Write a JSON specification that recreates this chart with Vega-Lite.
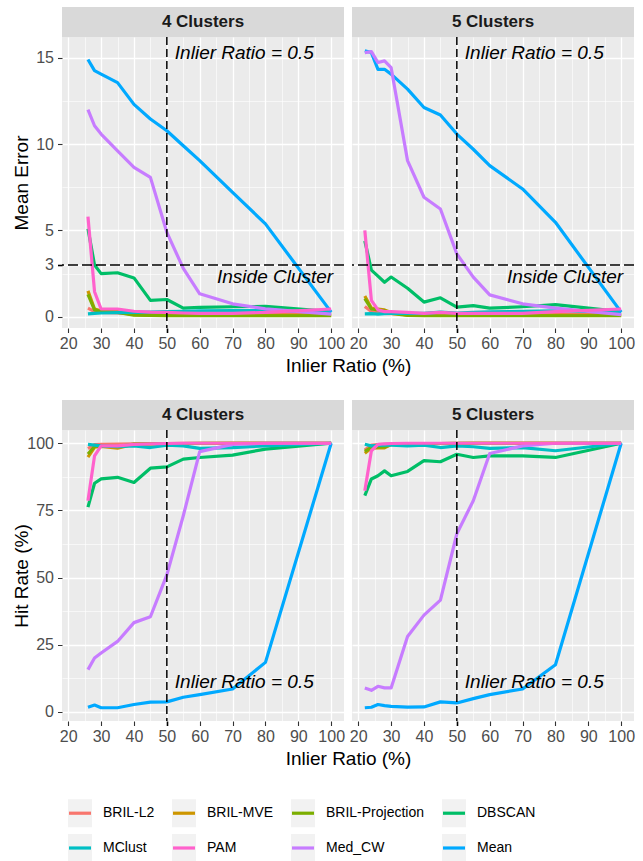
{
  "$schema": "https://vega.github.io/schema/vega-lite/v6.json",
  "background": "white",
  "padding": {"left": 12, "top": 7, "right": 7, "bottom": 0},
  "config": {
    "font": "Liberation Sans",
    "view": {"fill": "#EBEBEB", "stroke": null},
    "axis": {
      "domain": false,
      "gridColor": "#FFFFFF",
      "labelColor": "#4D4D4D",
      "labelFontSize": 16,
      "labelFont": "Liberation Sans",
      "tickColor": "#333333",
      "tickSize": 4.5,
      "titleFontSize": 19,
      "titleFontWeight": "normal",
      "titleColor": "#000000",
      "titleFont": "Liberation Sans",
      "labelOverlap": false,
      "labelFlush": false
    },
    "legend": {"symbolBaseFillColor": "#F2F2F2"},
    "line": {"strokeWidth": 3.2, "strokeJoin": "round", "strokeCap": "butt"}
  },
  "datasets": {
    "runs": [
      {"k":4,"m":"BRIL-L2","r":26,"e":0.5,"h":98},{"k":4,"m":"BRIL-L2","r":28,"e":0.3,"h":99.5},{"k":4,"m":"BRIL-L2","r":30,"e":0.25,"h":99.6},{"k":4,"m":"BRIL-L2","r":35,"e":0.22,"h":99.7},{"k":4,"m":"BRIL-L2","r":40,"e":0.15,"h":99.8},{"k":4,"m":"BRIL-L2","r":45,"e":0.12,"h":99.9},{"k":4,"m":"BRIL-L2","r":50,"e":0.12,"h":99.9},{"k":4,"m":"BRIL-L2","r":55,"e":0.1,"h":100},{"k":4,"m":"BRIL-L2","r":60,"e":0.1,"h":100},{"k":4,"m":"BRIL-L2","r":70,"e":0.1,"h":100},{"k":4,"m":"BRIL-L2","r":80,"e":0.12,"h":100},{"k":4,"m":"BRIL-L2","r":100,"e":0.15,"h":100},
      {"k":4,"m":"BRIL-MVE","r":26,"e":1.5,"h":94.8},{"k":4,"m":"BRIL-MVE","r":28,"e":0.45,"h":98.5},{"k":4,"m":"BRIL-MVE","r":30,"e":0.35,"h":98.8},{"k":4,"m":"BRIL-MVE","r":35,"e":0.3,"h":98.2},{"k":4,"m":"BRIL-MVE","r":40,"e":0.12,"h":99.6},{"k":4,"m":"BRIL-MVE","r":45,"e":0.1,"h":99.8},{"k":4,"m":"BRIL-MVE","r":50,"e":0.09,"h":99.8},{"k":4,"m":"BRIL-MVE","r":55,"e":0.08,"h":99.9},{"k":4,"m":"BRIL-MVE","r":60,"e":0.08,"h":99.9},{"k":4,"m":"BRIL-MVE","r":70,"e":0.08,"h":100},{"k":4,"m":"BRIL-MVE","r":80,"e":0.08,"h":100},{"k":4,"m":"BRIL-MVE","r":100,"e":0.08,"h":100},
      {"k":4,"m":"BRIL-Projection","r":26,"e":1.3,"h":96},{"k":4,"m":"BRIL-Projection","r":28,"e":0.4,"h":98.8},{"k":4,"m":"BRIL-Projection","r":30,"e":0.3,"h":99},{"k":4,"m":"BRIL-Projection","r":35,"e":0.25,"h":98.8},{"k":4,"m":"BRIL-Projection","r":40,"e":0.1,"h":99.7},{"k":4,"m":"BRIL-Projection","r":45,"e":0.08,"h":99.8},{"k":4,"m":"BRIL-Projection","r":50,"e":0.07,"h":99.9},{"k":4,"m":"BRIL-Projection","r":55,"e":0.06,"h":99.9},{"k":4,"m":"BRIL-Projection","r":60,"e":0.06,"h":100},{"k":4,"m":"BRIL-Projection","r":70,"e":0.06,"h":100},{"k":4,"m":"BRIL-Projection","r":80,"e":0.06,"h":100},{"k":4,"m":"BRIL-Projection","r":100,"e":0.06,"h":100},
      {"k":4,"m":"DBSCAN","r":26,"e":5.1,"h":76.2},{"k":4,"m":"DBSCAN","r":28,"e":3.0,"h":85.1},{"k":4,"m":"DBSCAN","r":30,"e":2.5,"h":86.7},{"k":4,"m":"DBSCAN","r":35,"e":2.55,"h":87.3},{"k":4,"m":"DBSCAN","r":40,"e":2.25,"h":85.4},{"k":4,"m":"DBSCAN","r":45,"e":0.95,"h":90.7},{"k":4,"m":"DBSCAN","r":50,"e":1.0,"h":91.2},{"k":4,"m":"DBSCAN","r":55,"e":0.5,"h":94.1},{"k":4,"m":"DBSCAN","r":60,"e":0.55,"h":94.7},{"k":4,"m":"DBSCAN","r":70,"e":0.58,"h":95.6},{"k":4,"m":"DBSCAN","r":80,"e":0.6,"h":97.8},{"k":4,"m":"DBSCAN","r":100,"e":0.3,"h":100},
      {"k":4,"m":"MClust","r":26,"e":0.17,"h":99.6},{"k":4,"m":"MClust","r":28,"e":0.2,"h":99.3},{"k":4,"m":"MClust","r":30,"e":0.22,"h":99},{"k":4,"m":"MClust","r":35,"e":0.24,"h":98.7},{"k":4,"m":"MClust","r":40,"e":0.25,"h":99},{"k":4,"m":"MClust","r":45,"e":0.27,"h":98.4},{"k":4,"m":"MClust","r":50,"e":0.3,"h":99.3},{"k":4,"m":"MClust","r":55,"e":0.32,"h":99},{"k":4,"m":"MClust","r":60,"e":0.34,"h":98.1},{"k":4,"m":"MClust","r":70,"e":0.36,"h":98.4},{"k":4,"m":"MClust","r":80,"e":0.36,"h":99},{"k":4,"m":"MClust","r":100,"e":0.27,"h":100},
      {"k":4,"m":"Mean","r":26,"e":14.9,"h":1.7},{"k":4,"m":"Mean","r":28,"e":14.25,"h":2.5},{"k":4,"m":"Mean","r":30,"e":14.05,"h":1.5},{"k":4,"m":"Mean","r":35,"e":13.56,"h":1.5},{"k":4,"m":"Mean","r":40,"e":12.3,"h":2.7},{"k":4,"m":"Mean","r":45,"e":11.45,"h":3.6},{"k":4,"m":"Mean","r":50,"e":10.77,"h":3.7},{"k":4,"m":"Mean","r":55,"e":9.9,"h":5.4},{"k":4,"m":"Mean","r":60,"e":9.04,"h":6.4},{"k":4,"m":"Mean","r":70,"e":7.2,"h":8.5},{"k":4,"m":"Mean","r":80,"e":5.38,"h":18.4},{"k":4,"m":"Mean","r":100,"e":0.27,"h":100},
      {"k":4,"m":"Med_CW","r":26,"e":12.0,"h":15.7},{"k":4,"m":"Med_CW","r":28,"e":11.06,"h":20},{"k":4,"m":"Med_CW","r":30,"e":10.58,"h":21.9},{"k":4,"m":"Med_CW","r":35,"e":9.61,"h":26.2},{"k":4,"m":"Med_CW","r":40,"e":8.65,"h":33.2},{"k":4,"m":"Med_CW","r":45,"e":8.07,"h":35.4},{"k":4,"m":"Med_CW","r":50,"e":4.89,"h":51},{"k":4,"m":"Med_CW","r":55,"e":2.8,"h":73},{"k":4,"m":"Med_CW","r":60,"e":1.33,"h":96.9},{"k":4,"m":"Med_CW","r":70,"e":0.75,"h":99.6},{"k":4,"m":"Med_CW","r":80,"e":0.46,"h":100},{"k":4,"m":"Med_CW","r":100,"e":0.15,"h":100},
      {"k":4,"m":"PAM","r":26,"e":5.8,"h":78.6},{"k":4,"m":"PAM","r":28,"e":1.45,"h":95.3},{"k":4,"m":"PAM","r":30,"e":0.45,"h":99},{"k":4,"m":"PAM","r":35,"e":0.45,"h":99},{"k":4,"m":"PAM","r":40,"e":0.32,"h":99.6},{"k":4,"m":"PAM","r":45,"e":0.27,"h":99.8},{"k":4,"m":"PAM","r":50,"e":0.25,"h":99.9},{"k":4,"m":"PAM","r":55,"e":0.22,"h":100},{"k":4,"m":"PAM","r":60,"e":0.2,"h":100},{"k":4,"m":"PAM","r":70,"e":0.2,"h":100},{"k":4,"m":"PAM","r":80,"e":0.25,"h":100},{"k":4,"m":"PAM","r":100,"e":0.45,"h":100},
      {"k":5,"m":"BRIL-L2","r":22,"e":0.6,"h":97.5},{"k":5,"m":"BRIL-L2","r":24,"e":0.3,"h":99.3},{"k":5,"m":"BRIL-L2","r":26,"e":0.25,"h":99.5},{"k":5,"m":"BRIL-L2","r":28,"e":0.2,"h":99.6},{"k":5,"m":"BRIL-L2","r":30,"e":0.18,"h":99.7},{"k":5,"m":"BRIL-L2","r":35,"e":0.15,"h":99.8},{"k":5,"m":"BRIL-L2","r":40,"e":0.12,"h":99.9},{"k":5,"m":"BRIL-L2","r":45,"e":0.12,"h":99.9},{"k":5,"m":"BRIL-L2","r":50,"e":0.1,"h":100},{"k":5,"m":"BRIL-L2","r":55,"e":0.1,"h":100},{"k":5,"m":"BRIL-L2","r":60,"e":0.1,"h":100},{"k":5,"m":"BRIL-L2","r":70,"e":0.1,"h":100},{"k":5,"m":"BRIL-L2","r":80,"e":0.12,"h":100},{"k":5,"m":"BRIL-L2","r":100,"e":0.15,"h":100},
      {"k":5,"m":"BRIL-MVE","r":22,"e":1.2,"h":96.3},{"k":5,"m":"BRIL-MVE","r":24,"e":0.5,"h":98.2},{"k":5,"m":"BRIL-MVE","r":26,"e":0.45,"h":98.3},{"k":5,"m":"BRIL-MVE","r":28,"e":0.4,"h":98.3},{"k":5,"m":"BRIL-MVE","r":30,"e":0.25,"h":99.5},{"k":5,"m":"BRIL-MVE","r":35,"e":0.1,"h":99.7},{"k":5,"m":"BRIL-MVE","r":40,"e":0.08,"h":99.8},{"k":5,"m":"BRIL-MVE","r":45,"e":0.08,"h":99.9},{"k":5,"m":"BRIL-MVE","r":50,"e":0.08,"h":99.9},{"k":5,"m":"BRIL-MVE","r":55,"e":0.08,"h":100},{"k":5,"m":"BRIL-MVE","r":60,"e":0.08,"h":100},{"k":5,"m":"BRIL-MVE","r":70,"e":0.08,"h":100},{"k":5,"m":"BRIL-MVE","r":80,"e":0.08,"h":100},{"k":5,"m":"BRIL-MVE","r":100,"e":0.08,"h":100},
      {"k":5,"m":"BRIL-Projection","r":22,"e":1.05,"h":97},{"k":5,"m":"BRIL-Projection","r":24,"e":0.45,"h":98.5},{"k":5,"m":"BRIL-Projection","r":26,"e":0.4,"h":98.6},{"k":5,"m":"BRIL-Projection","r":28,"e":0.35,"h":98.6},{"k":5,"m":"BRIL-Projection","r":30,"e":0.2,"h":99.6},{"k":5,"m":"BRIL-Projection","r":35,"e":0.08,"h":99.8},{"k":5,"m":"BRIL-Projection","r":40,"e":0.06,"h":99.9},{"k":5,"m":"BRIL-Projection","r":45,"e":0.06,"h":99.9},{"k":5,"m":"BRIL-Projection","r":50,"e":0.06,"h":100},{"k":5,"m":"BRIL-Projection","r":55,"e":0.06,"h":100},{"k":5,"m":"BRIL-Projection","r":60,"e":0.06,"h":100},{"k":5,"m":"BRIL-Projection","r":70,"e":0.06,"h":100},{"k":5,"m":"BRIL-Projection","r":80,"e":0.06,"h":100},{"k":5,"m":"BRIL-Projection","r":100,"e":0.06,"h":100},
      {"k":5,"m":"DBSCAN","r":22,"e":4.4,"h":80.5},{"k":5,"m":"DBSCAN","r":24,"e":2.7,"h":86.7},{"k":5,"m":"DBSCAN","r":26,"e":2.35,"h":87.9},{"k":5,"m":"DBSCAN","r":28,"e":2.0,"h":89.7},{"k":5,"m":"DBSCAN","r":30,"e":2.3,"h":87.9},{"k":5,"m":"DBSCAN","r":35,"e":1.65,"h":89.5},{"k":5,"m":"DBSCAN","r":40,"e":0.85,"h":93.5},{"k":5,"m":"DBSCAN","r":45,"e":1.1,"h":93.1},{"k":5,"m":"DBSCAN","r":50,"e":0.56,"h":95.9},{"k":5,"m":"DBSCAN","r":55,"e":0.65,"h":94.7},{"k":5,"m":"DBSCAN","r":60,"e":0.5,"h":95.3},{"k":5,"m":"DBSCAN","r":70,"e":0.58,"h":95.3},{"k":5,"m":"DBSCAN","r":80,"e":0.7,"h":94.7},{"k":5,"m":"DBSCAN","r":100,"e":0.3,"h":100},
      {"k":5,"m":"MClust","r":22,"e":0.17,"h":99.6},{"k":5,"m":"MClust","r":24,"e":0.18,"h":99},{"k":5,"m":"MClust","r":26,"e":0.15,"h":99.2},{"k":5,"m":"MClust","r":28,"e":0.18,"h":99.3},{"k":5,"m":"MClust","r":30,"e":0.2,"h":99.3},{"k":5,"m":"MClust","r":35,"e":0.2,"h":99},{"k":5,"m":"MClust","r":40,"e":0.2,"h":99.3},{"k":5,"m":"MClust","r":45,"e":0.27,"h":98.4},{"k":5,"m":"MClust","r":50,"e":0.22,"h":99},{"k":5,"m":"MClust","r":55,"e":0.25,"h":98.7},{"k":5,"m":"MClust","r":60,"e":0.28,"h":98.1},{"k":5,"m":"MClust","r":70,"e":0.32,"h":98.4},{"k":5,"m":"MClust","r":80,"e":0.35,"h":97.2},{"k":5,"m":"MClust","r":100,"e":0.27,"h":100},
      {"k":5,"m":"Mean","r":22,"e":15.4,"h":1.5},{"k":5,"m":"Mean","r":24,"e":15.3,"h":1.7},{"k":5,"m":"Mean","r":26,"e":14.33,"h":2.7},{"k":5,"m":"Mean","r":28,"e":14.33,"h":2.3},{"k":5,"m":"Mean","r":30,"e":14.05,"h":2.0},{"k":5,"m":"Mean","r":35,"e":13.18,"h":1.7},{"k":5,"m":"Mean","r":40,"e":12.12,"h":1.8},{"k":5,"m":"Mean","r":45,"e":11.68,"h":3.7},{"k":5,"m":"Mean","r":50,"e":10.58,"h":3.3},{"k":5,"m":"Mean","r":55,"e":9.7,"h":4.9},{"k":5,"m":"Mean","r":60,"e":8.75,"h":6.4},{"k":5,"m":"Mean","r":70,"e":7.4,"h":8.5},{"k":5,"m":"Mean","r":80,"e":5.47,"h":17.5},{"k":5,"m":"Mean","r":100,"e":0.27,"h":100},
      {"k":5,"m":"Med_CW","r":22,"e":15.3,"h":8.9},{"k":5,"m":"Med_CW","r":24,"e":15.35,"h":8.0},{"k":5,"m":"Med_CW","r":26,"e":14.72,"h":9.5},{"k":5,"m":"Med_CW","r":28,"e":14.82,"h":8.9},{"k":5,"m":"Med_CW","r":30,"e":14.43,"h":8.9},{"k":5,"m":"Med_CW","r":35,"e":9.04,"h":28},{"k":5,"m":"Med_CW","r":40,"e":6.92,"h":36},{"k":5,"m":"Med_CW","r":45,"e":6.24,"h":41.6},{"k":5,"m":"Med_CW","r":50,"e":3.64,"h":66.3},{"k":5,"m":"Med_CW","r":55,"e":2.3,"h":78.6},{"k":5,"m":"Med_CW","r":60,"e":1.27,"h":96.2},{"k":5,"m":"Med_CW","r":70,"e":0.75,"h":99},{"k":5,"m":"Med_CW","r":80,"e":0.5,"h":100},{"k":5,"m":"Med_CW","r":100,"e":0.12,"h":100},
      {"k":5,"m":"PAM","r":22,"e":5.0,"h":82.3},{"k":5,"m":"PAM","r":24,"e":0.95,"h":97.2},{"k":5,"m":"PAM","r":26,"e":0.4,"h":99.6},{"k":5,"m":"PAM","r":28,"e":0.3,"h":99.8},{"k":5,"m":"PAM","r":30,"e":0.3,"h":99.9},{"k":5,"m":"PAM","r":35,"e":0.25,"h":100},{"k":5,"m":"PAM","r":40,"e":0.2,"h":100},{"k":5,"m":"PAM","r":45,"e":0.25,"h":100},{"k":5,"m":"PAM","r":50,"e":0.2,"h":100},{"k":5,"m":"PAM","r":55,"e":0.2,"h":100},{"k":5,"m":"PAM","r":60,"e":0.2,"h":100},{"k":5,"m":"PAM","r":70,"e":0.2,"h":100},{"k":5,"m":"PAM","r":80,"e":0.3,"h":100},{"k":5,"m":"PAM","r":100,"e":0.45,"h":100}
    ]
  },
  "bounds": "flush",
  "columns": 2,
  "spacing": {"row": 0, "column": 8},
  "concat": [
    {
      "width": 282, "height": 30,
      "view": {"fill": "#D9D9D9", "stroke": null},
      "data": {"values": [{"k": "4 Clusters"}]},
      "mark": {"type": "text", "fontWeight": "bold", "fontSize": 17, "color": "#1A1A1A", "baseline": "middle"},
      "encoding": {"text": {"field": "k"}}
    },
    {
      "width": 282, "height": 30,
      "view": {"fill": "#D9D9D9", "stroke": null},
      "data": {"values": [{"k": "5 Clusters"}]},
      "mark": {"type": "text", "fontWeight": "bold", "fontSize": 17, "color": "#1A1A1A", "baseline": "middle"},
      "encoding": {"text": {"field": "k"}}
    },
    {
      "width": 282, "height": 291,
      "layer": [
        {
          "data": {"name": "runs"},
          "transform": [{"filter": "datum.k === 4"}],
          "mark": {"type": "line"},
          "encoding": {
            "x": {"field": "r", "type": "quantitative", "title": "Inlier Ratio (%)",
              "scale": {"domain": [18.1, 103.9], "nice": false, "zero": false},
              "axis": {"values": [20,25,30,35,40,45,50,55,60,65,70,75,80,85,90,95,100], "tickCount": 100, "labelOverlap": false, "format": "d",
                "labelExpr": "datum.value % 10 === 0 ? datum.label : ''",
                "tickOpacity": {"condition": {"test": "datum.value % 10 !== 0", "value": 0}, "value": 1},
                "tickColor": {"condition": {"test": "datum.value === 50", "value": "#000000"}, "value": "#333333"},
                "tickWidth": {"condition": {"test": "datum.value === 50", "value": 1.6}, "value": 1.1},
                "gridWidth": {"condition": {"test": "datum.value % 10 !== 0", "value": 0.6}, "value": 1.3},
                "labelPadding": 3, "titlePadding": 5, "titleX": 286}},
            "y": {"field": "e", "type": "quantitative", "title": "Mean Error",
              "scale": {"domain": [-0.65, 16.2], "nice": false, "zero": false},
              "axis": {"values": [0,2.5,3,5,7.5,10,12.5,15], "tickCount": 100, "labelOverlap": false, "format": "d",
                "labelExpr": "(datum.value === 2.5 || datum.value === 7.5 || datum.value === 12.5) ? '' : datum.label",
                "tickOpacity": {"condition": {"test": "datum.value === 2.5 || datum.value === 7.5 || datum.value === 12.5", "value": 0}, "value": 1},
                "tickColor": {"condition": {"test": "datum.value === 3", "value": "#000000"}, "value": "#333333"},
                "tickWidth": {"condition": {"test": "datum.value === 3", "value": 1.6}, "value": 1.1},
                "gridWidth": {"condition": {"test": "datum.value === 2.5 || datum.value === 7.5 || datum.value === 12.5", "value": 0.6}, "value": 1.3},
                "labelPadding": 4, "minExtent": 28, "maxExtent": 28, "titlePadding": 3}},
            "stroke": {"field": "m", "type": "nominal",
              "scale": {"domain": ["BRIL-L2","BRIL-MVE","BRIL-Projection","DBSCAN","MClust","PAM","Med_CW","Mean"],
                "range": ["#F8766D","#CD9600","#7CAE00","#00BE67","#00BFC4","#FF61CC","#C77CFF","#00A9FF"]},
              "legend": {"title": null, "orient": "none", "legendX": 5, "legendY": 793, "direction": "horizontal", "columns": 4,
                "symbolType": "M-1,0H1H1.09V-1.27H-1.09V1.27H1.09V0Z", "symbolSize": 484, "symbolStrokeWidth": 3.2, "symbolDash": [22, 1000],
                "labelFontSize": 14, "labelColor": "#000000", "labelFont": "Liberation Sans", "labelOffset": 10,
                "columnPadding": 15, "rowPadding": 3}}
          }
        },
        {
          "data": {"values": [{}]},
          "mark": {"type": "rule", "color": "#000000", "strokeWidth": 1.5, "strokeDash": [8, 4]},
          "encoding": {"x": {"datum": 50}}
        },
        {
          "data": {"values": [{}]},
          "mark": {"type": "rule", "color": "#000000", "strokeWidth": 1.5, "strokeDash": [10, 4]},
          "encoding": {"y": {"datum": 3}}
        },
        {
          "data": {"values": [{}]},
          "mark": {"type": "text", "text": "Inlier Ratio = 0.5", "align": "left", "baseline": "middle", "dx": 8, "fontSize": 19, "fontStyle": "italic", "color": "#000000"},
          "encoding": {"x": {"datum": 50}, "y": {"datum": 15.3}}
        },
        {
          "data": {"values": [{}]},
          "mark": {"type": "text", "text": "Inside Cluster", "align": "right", "baseline": "middle", "dx": 2, "fontSize": 19, "fontStyle": "italic", "color": "#000000"},
          "encoding": {"x": {"datum": 100}, "y": {"datum": 2.3}}
        }
      ]
    },
    {
      "width": 282, "height": 291,
      "layer": [
        {
          "data": {"name": "runs"},
          "transform": [{"filter": "datum.k === 5"}],
          "mark": {"type": "line"},
          "encoding": {
            "x": {"field": "r", "type": "quantitative", "title": null,
              "scale": {"domain": [18.1, 103.9], "nice": false, "zero": false},
              "axis": {"values": [20,25,30,35,40,45,50,55,60,65,70,75,80,85,90,95,100], "tickCount": 100, "labelOverlap": false, "format": "d",
                "labelExpr": "datum.value % 10 === 0 ? datum.label : ''",
                "tickOpacity": {"condition": {"test": "datum.value % 10 !== 0", "value": 0}, "value": 1},
                "tickColor": {"condition": {"test": "datum.value === 50", "value": "#000000"}, "value": "#333333"},
                "tickWidth": {"condition": {"test": "datum.value === 50", "value": 1.6}, "value": 1.1},
                "gridWidth": {"condition": {"test": "datum.value % 10 !== 0", "value": 0.6}, "value": 1.3},
                "labelPadding": 3}},
            "y": {"field": "e", "type": "quantitative", "title": null,
              "scale": {"domain": [-0.65, 16.2], "nice": false, "zero": false},
              "axis": {"values": [0,2.5,3,5,7.5,10,12.5,15], "tickCount": 100, "labels": false, "ticks": false,
                "gridWidth": {"condition": {"test": "datum.value === 2.5 || datum.value === 7.5 || datum.value === 12.5", "value": 0.6}, "value": 1.3}}},
            "stroke": {"field": "m", "type": "nominal",
              "scale": {"domain": ["BRIL-L2","BRIL-MVE","BRIL-Projection","DBSCAN","MClust","PAM","Med_CW","Mean"],
                "range": ["#F8766D","#CD9600","#7CAE00","#00BE67","#00BFC4","#FF61CC","#C77CFF","#00A9FF"]},
              "legend": {"title": null, "orient": "none", "legendX": 5, "legendY": 793, "direction": "horizontal", "columns": 4,
                "symbolType": "M-1,0H1H1.09V-1.27H-1.09V1.27H1.09V0Z", "symbolSize": 484, "symbolStrokeWidth": 3.2, "symbolDash": [22, 1000],
                "labelFontSize": 14, "labelColor": "#000000", "labelFont": "Liberation Sans", "labelOffset": 10,
                "columnPadding": 15, "rowPadding": 3}}
          }
        },
        {
          "data": {"values": [{}]},
          "mark": {"type": "rule", "color": "#000000", "strokeWidth": 1.5, "strokeDash": [8, 4]},
          "encoding": {"x": {"datum": 50}}
        },
        {
          "data": {"values": [{}]},
          "mark": {"type": "rule", "color": "#000000", "strokeWidth": 1.5, "strokeDash": [10, 4]},
          "encoding": {"y": {"datum": 3}}
        },
        {
          "data": {"values": [{}]},
          "mark": {"type": "text", "text": "Inlier Ratio = 0.5", "align": "left", "baseline": "middle", "dx": 8, "fontSize": 19, "fontStyle": "italic", "color": "#000000"},
          "encoding": {"x": {"datum": 50}, "y": {"datum": 15.3}}
        },
        {
          "data": {"values": [{}]},
          "mark": {"type": "text", "text": "Inside Cluster", "align": "right", "baseline": "middle", "dx": 2, "fontSize": 19, "fontStyle": "italic", "color": "#000000"},
          "encoding": {"x": {"datum": 100}, "y": {"datum": 2.3}}
        }
      ]
    },
    {
      "width": 282, "height": 72,
      "view": {"fill": null, "stroke": null},
      "data": {"values": [{}]},
      "mark": {"type": "text", "text": ""}
    },
    {
      "width": 282, "height": 72,
      "view": {"fill": null, "stroke": null},
      "data": {"values": [{}]},
      "mark": {"type": "text", "text": ""}
    },
    {
      "width": 282, "height": 30,
      "view": {"fill": "#D9D9D9", "stroke": null},
      "data": {"values": [{"k": "4 Clusters"}]},
      "mark": {"type": "text", "fontWeight": "bold", "fontSize": 17, "color": "#1A1A1A", "baseline": "middle"},
      "encoding": {"text": {"field": "k"}}
    },
    {
      "width": 282, "height": 30,
      "view": {"fill": "#D9D9D9", "stroke": null},
      "data": {"values": [{"k": "5 Clusters"}]},
      "mark": {"type": "text", "fontWeight": "bold", "fontSize": 17, "color": "#1A1A1A", "baseline": "middle"},
      "encoding": {"text": {"field": "k"}}
    },
    {
      "width": 282, "height": 291,
      "layer": [
        {
          "data": {"name": "runs"},
          "transform": [{"filter": "datum.k === 4"}],
          "mark": {"type": "line"},
          "encoding": {
            "x": {"field": "r", "type": "quantitative", "title": "Inlier Ratio (%)",
              "scale": {"domain": [18.1, 103.9], "nice": false, "zero": false},
              "axis": {"values": [20,25,30,35,40,45,50,55,60,65,70,75,80,85,90,95,100], "tickCount": 100, "labelOverlap": false, "format": "d",
                "labelExpr": "datum.value % 10 === 0 ? datum.label : ''",
                "tickOpacity": {"condition": {"test": "datum.value % 10 !== 0", "value": 0}, "value": 1},
                "tickColor": {"condition": {"test": "datum.value === 50", "value": "#000000"}, "value": "#333333"},
                "tickWidth": {"condition": {"test": "datum.value === 50", "value": 1.6}, "value": 1.1},
                "gridWidth": {"condition": {"test": "datum.value % 10 !== 0", "value": 0.6}, "value": 1.3},
                "labelPadding": 3, "titlePadding": 5, "titleX": 286}},
            "y": {"field": "h", "type": "quantitative", "title": "Hit Rate (%)",
              "scale": {"domain": [-3.43, 104.93], "nice": false, "zero": false},
              "axis": {"values": [0,12.5,25,37.5,50,62.5,75,87.5,100], "tickCount": 100, "labelOverlap": false, "format": "d",
                "labelExpr": "datum.value % 25 !== 0 ? '' : datum.label",
                "tickOpacity": {"condition": {"test": "datum.value % 25 !== 0", "value": 0}, "value": 1},
                "gridWidth": {"condition": {"test": "datum.value % 25 !== 0", "value": 0.6}, "value": 1.3},
                "labelPadding": 4, "minExtent": 28, "maxExtent": 28, "titlePadding": 3}},
            "stroke": {"field": "m", "type": "nominal",
              "scale": {"domain": ["BRIL-L2","BRIL-MVE","BRIL-Projection","DBSCAN","MClust","PAM","Med_CW","Mean"],
                "range": ["#F8766D","#CD9600","#7CAE00","#00BE67","#00BFC4","#FF61CC","#C77CFF","#00A9FF"]},
              "legend": {"title": null, "orient": "none", "legendX": 5, "legendY": 793, "direction": "horizontal", "columns": 4,
                "symbolType": "M-1,0H1H1.09V-1.27H-1.09V1.27H1.09V0Z", "symbolSize": 484, "symbolStrokeWidth": 3.2, "symbolDash": [22, 1000],
                "labelFontSize": 14, "labelColor": "#000000", "labelFont": "Liberation Sans", "labelOffset": 10,
                "columnPadding": 15, "rowPadding": 3}}
          }
        },
        {
          "data": {"values": [{}]},
          "mark": {"type": "rule", "color": "#000000", "strokeWidth": 1.5, "strokeDash": [8, 4]},
          "encoding": {"x": {"datum": 50}}
        },
        {
          "data": {"values": [{}]},
          "mark": {"type": "text", "text": "Inlier Ratio = 0.5", "align": "left", "baseline": "middle", "dx": 8, "fontSize": 19, "fontStyle": "italic", "color": "#000000"},
          "encoding": {"x": {"datum": 50}, "y": {"datum": 11.0}}
        }
      ]
    },
    {
      "width": 282, "height": 291,
      "layer": [
        {
          "data": {"name": "runs"},
          "transform": [{"filter": "datum.k === 5"}],
          "mark": {"type": "line"},
          "encoding": {
            "x": {"field": "r", "type": "quantitative", "title": null,
              "scale": {"domain": [18.1, 103.9], "nice": false, "zero": false},
              "axis": {"values": [20,25,30,35,40,45,50,55,60,65,70,75,80,85,90,95,100], "tickCount": 100, "labelOverlap": false, "format": "d",
                "labelExpr": "datum.value % 10 === 0 ? datum.label : ''",
                "tickOpacity": {"condition": {"test": "datum.value % 10 !== 0", "value": 0}, "value": 1},
                "tickColor": {"condition": {"test": "datum.value === 50", "value": "#000000"}, "value": "#333333"},
                "tickWidth": {"condition": {"test": "datum.value === 50", "value": 1.6}, "value": 1.1},
                "gridWidth": {"condition": {"test": "datum.value % 10 !== 0", "value": 0.6}, "value": 1.3},
                "labelPadding": 3}},
            "y": {"field": "h", "type": "quantitative", "title": null,
              "scale": {"domain": [-3.43, 104.93], "nice": false, "zero": false},
              "axis": {"values": [0,12.5,25,37.5,50,62.5,75,87.5,100], "tickCount": 100, "labels": false, "ticks": false,
                "gridWidth": {"condition": {"test": "datum.value % 25 !== 0", "value": 0.6}, "value": 1.3}}},
            "stroke": {"field": "m", "type": "nominal",
              "scale": {"domain": ["BRIL-L2","BRIL-MVE","BRIL-Projection","DBSCAN","MClust","PAM","Med_CW","Mean"],
                "range": ["#F8766D","#CD9600","#7CAE00","#00BE67","#00BFC4","#FF61CC","#C77CFF","#00A9FF"]},
              "legend": {"title": null, "orient": "none", "legendX": 5, "legendY": 793, "direction": "horizontal", "columns": 4,
                "symbolType": "M-1,0H1H1.09V-1.27H-1.09V1.27H1.09V0Z", "symbolSize": 484, "symbolStrokeWidth": 3.2, "symbolDash": [22, 1000],
                "labelFontSize": 14, "labelColor": "#000000", "labelFont": "Liberation Sans", "labelOffset": 10,
                "columnPadding": 15, "rowPadding": 3}}
          }
        },
        {
          "data": {"values": [{}]},
          "mark": {"type": "rule", "color": "#000000", "strokeWidth": 1.5, "strokeDash": [8, 4]},
          "encoding": {"x": {"datum": 50}}
        },
        {
          "data": {"values": [{}]},
          "mark": {"type": "text", "text": "Inlier Ratio = 0.5", "align": "left", "baseline": "middle", "dx": 8, "fontSize": 19, "fontStyle": "italic", "color": "#000000"},
          "encoding": {"x": {"datum": 50}, "y": {"datum": 11.0}}
        }
      ]
    }
  ]
}
